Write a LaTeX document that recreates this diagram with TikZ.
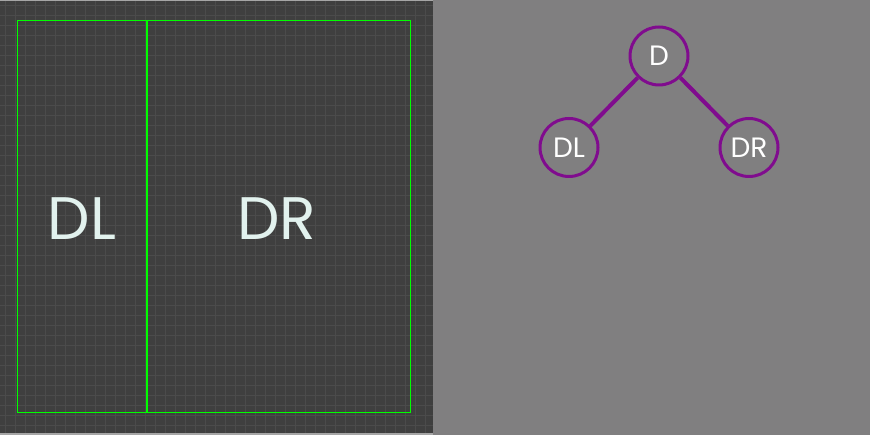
\documentclass[tikz,border=0pt]{standalone}
\usepackage{fontspec}
\setmainfont{Poppins}
\usepackage{xcolor}

\definecolor{panelgray}{HTML}{3F3F3F}
\definecolor{gridgray}{HTML}{4B4B4B}
\definecolor{treegray}{HTML}{807F80}
\definecolor{boxgreen}{HTML}{00FF00}
\definecolor{labelmint}{HTML}{E2F2EE}
\definecolor{treepurple}{HTML}{800C8E}

\tikzset{
  treenode/.style={circle,draw=treepurple,line width=3pt,minimum size=58pt,
    inner sep=0pt,text=white,font=\fontsize{28}{28}\selectfont},
  treeedge/.style={treepurple,line width=4pt},
  boxlabel/.style={text=labelmint,font=\fontsize{60}{60}\selectfont}
}

\begin{document}
\begin{tikzpicture}[x=1pt,y=-1pt]
\useasboundingbox (0,0) rectangle (870,435);
% left panel with grid
\fill[panelgray] (0,0) rectangle (433,435);
\foreach \g in {5,15,...,425} {
  \draw[gridgray,line width=0.8pt] (\g,0) -- (\g,435);
  \draw[gridgray,line width=0.8pt] (0,\g) -- (433,\g);
}
\draw[gray!70,line width=1.5pt] (0,0.75) -- (433,0.75);
\draw[gray!70,line width=1.5pt] (0,434.2) -- (433,434.2);
% right panel
\fill[treegray] (433,0) rectangle (870,435);
% split boxes
\draw[boxgreen,line width=1.5pt] (17.5,20.5) rectangle (410.5,412.5);
\draw[boxgreen,line width=1.5pt] (147,20.5) -- (147,412.5);
\node[boxlabel] (dl) at (82,219) {DL};
\node[boxlabel] (dr) at (277,219) {DR};
% tree
\node[treenode] (d) at (659,56) {D};
\node[treenode] (tdl) at (569,147.5) {DL};
\node[treenode] (tdr) at (749,147.5) {DR};
\draw[treeedge] (d) -- (tdl);
\draw[treeedge] (d) -- (tdr);
\end{tikzpicture}
\end{document}
